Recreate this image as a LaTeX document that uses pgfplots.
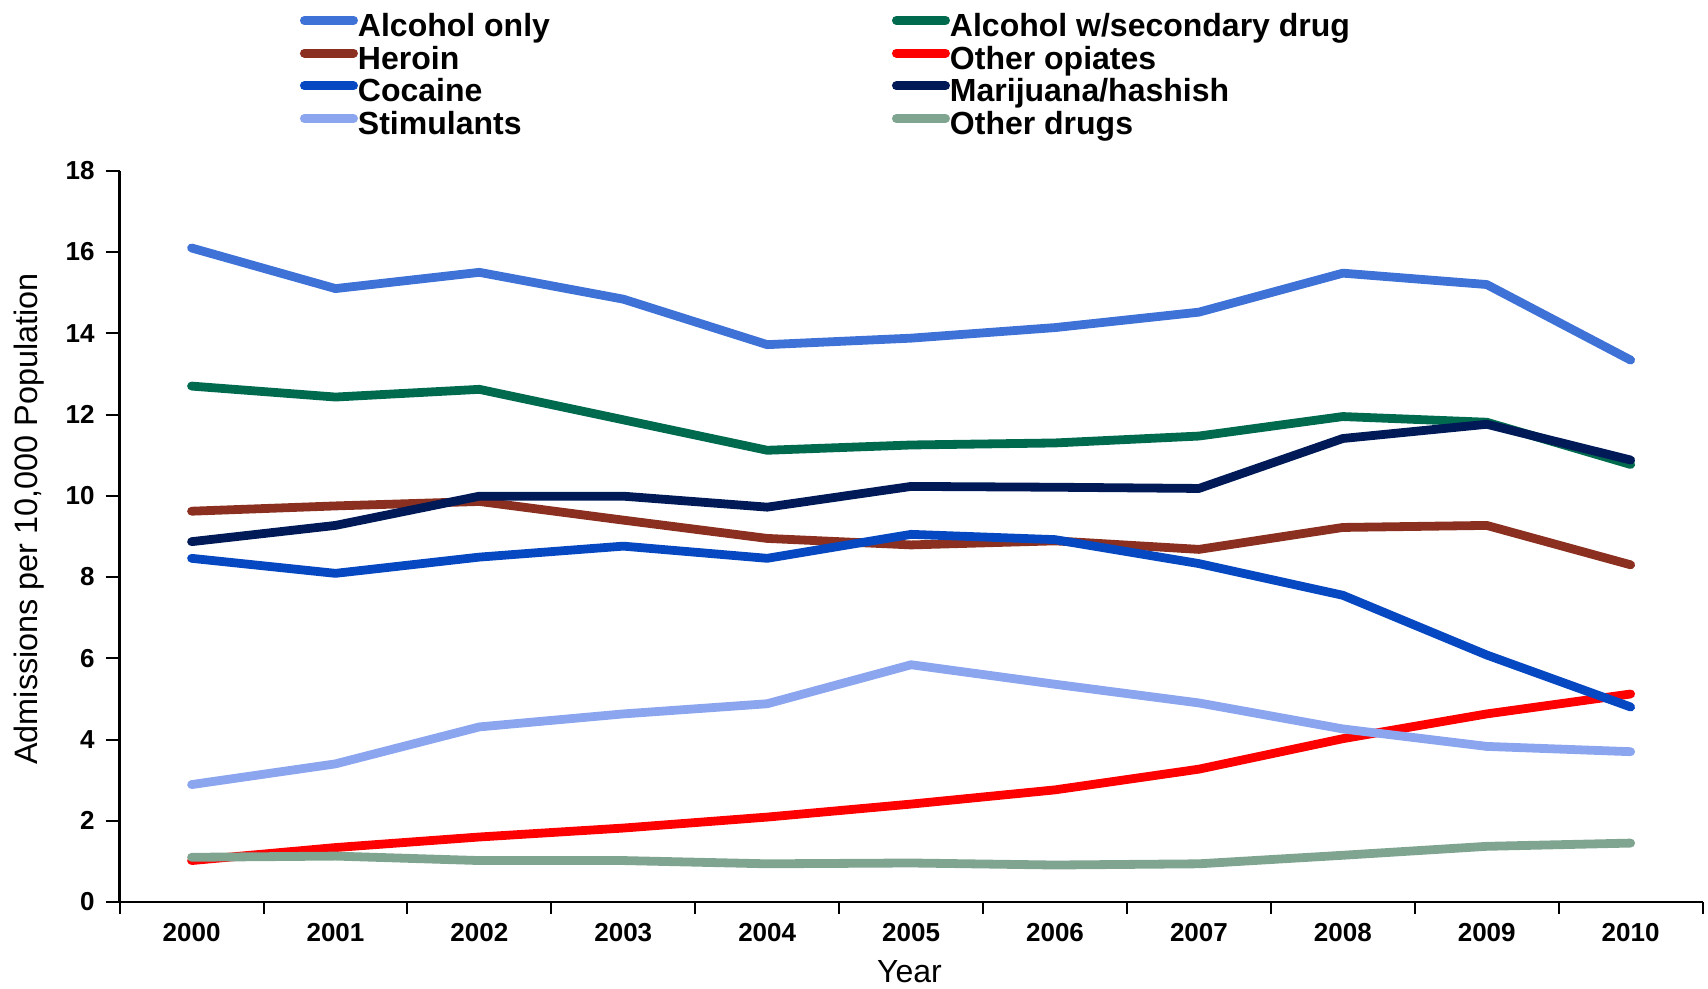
\documentclass[border=0pt]{standalone}
\usepackage{fontspec}
\setmainfont{Liberation Sans}
\usepackage{pgfplots}
\pgfplotsset{compat=1.18}

\definecolor{alcOnly}{HTML}{3E72D6}
\definecolor{alcSec}{HTML}{006A4E}
\definecolor{heroin}{HTML}{8B3020}
\definecolor{opiates}{HTML}{FF0000}
\definecolor{cocaine}{HTML}{0648C2}
\definecolor{marijuana}{HTML}{001A57}
\definecolor{stimul}{HTML}{8CA5EF}
\definecolor{otherdr}{HTML}{7FA590}

\begin{document}
\begin{tikzpicture}
\path[use as bounding box] (0,0) rectangle (854pt,494.5pt);
\begin{axis}[
    at={(59.8pt,43.5pt)}, anchor=south west,
    scale only axis,
    width=791.5pt, height=365.6pt,
    xmin=-0.5, xmax=10.5,
    ymin=0, ymax=18,
    ytick={0,2,...,18},
    xtick={0,...,10},
    xticklabels={2000,2001,2002,2003,2004,2005,2006,2007,2008,2009,2010},
    minor xtick={-0.5,0.5,...,10.5},
    major x tick style={draw=none},
    axis x line*=bottom, axis y line*=left,
    axis line style={-, line width=1.2pt},
    tick style={line width=1pt, black},
    tick align=outside,
    major tick length=7pt, minor tick length=6pt,
    /pgf/number format/assume math mode=true,
    ticklabel style={font=\bfseries\fontsize{13}{15}\selectfont},
    yticklabel style={xshift=-2pt},
    xlabel={Year}, ylabel={Admissions per 10,000 Population},
    every axis x label/.style={at={(axis description cs:0.499,-0.095)}, anchor=center,
        font=\fontsize{16}{19}\selectfont},
    every axis y label/.style={at={(axis description cs:-0.057,0.524)}, rotate=90, anchor=center,
        font=\fontsize{16.2}{19}\selectfont},
    every axis plot/.append style={line width=4.4pt, line join=round, line cap=round},
    legend columns=2,
    legend cell align=left,
    legend image code/.code={\draw[line width=4.4pt, line cap=round] (2.1pt,0.38em) -- (26.7pt,0.38em);},
    legend style={draw=none, fill=none,
        at={(axis description cs:0.1099,1.2222)}, anchor=north west,
        font=\bfseries\fontsize{16}{19}\selectfont,
        nodes={inner sep=0pt, text height=11.8pt, text depth=3.5pt},
        row sep=1.05pt,
        /tikz/column 1/.style={column sep=0pt},
        /tikz/column 2/.style={column sep=171pt},
        /tikz/column 3/.style={column sep=0pt}},
]
\addplot[color=alcOnly] coordinates {
  (0,16.10)(1,15.10)(2,15.50)(3,14.84)(4,13.72)(5,13.88)(6,14.14)(7,14.52)(8,15.48)(9,15.20)(10,13.34)};
\addlegendentry{Alcohol only}
\addplot[color=alcSec] coordinates {
  (0,12.70)(1,12.43)(2,12.62)(3,11.87)(4,11.12)(5,11.25)(6,11.30)(7,11.47)(8,11.95)(9,11.81)(10,10.77)};
\addlegendentry{Alcohol w/secondary drug}
\addplot[color=heroin] coordinates {
  (0,9.62)(1,9.75)(2,9.86)(3,9.40)(4,8.95)(5,8.79)(6,8.89)(7,8.68)(8,9.22)(9,9.27)(10,8.30)};
\addlegendentry{Heroin}
\addplot[color=opiates] coordinates {
  (0,1.02)(1,1.34)(2,1.60)(3,1.82)(4,2.09)(5,2.41)(6,2.76)(7,3.27)(8,4.02)(9,4.63)(10,5.12)};
\addlegendentry{Other opiates}
\addplot[color=cocaine] coordinates {
  (0,8.46)(1,8.09)(2,8.49)(3,8.76)(4,8.46)(5,9.05)(6,8.92)(7,8.33)(8,7.55)(9,6.08)(10,4.80)};
\addlegendentry{Cocaine}
\addplot[color=marijuana] coordinates {
  (0,8.87)(1,9.27)(2,9.99)(3,9.99)(4,9.72)(5,10.23)(6,10.21)(7,10.18)(8,11.41)(9,11.76)(10,10.88)};
\addlegendentry{Marijuana/hashish}
\addplot[color=stimul] coordinates {
  (0,2.89)(1,3.40)(2,4.31)(3,4.63)(4,4.88)(5,5.84)(6,5.36)(7,4.90)(8,4.26)(9,3.83)(10,3.70)};
\addlegendentry{Stimulants}
\addplot[color=otherdr] coordinates {
  (0,1.10)(1,1.13)(2,1.02)(3,1.02)(4,0.94)(5,0.96)(6,0.91)(7,0.94)(8,1.15)(9,1.37)(10,1.45)};
\addlegendentry{Other drugs}
\end{axis}
\end{tikzpicture}
\end{document}
